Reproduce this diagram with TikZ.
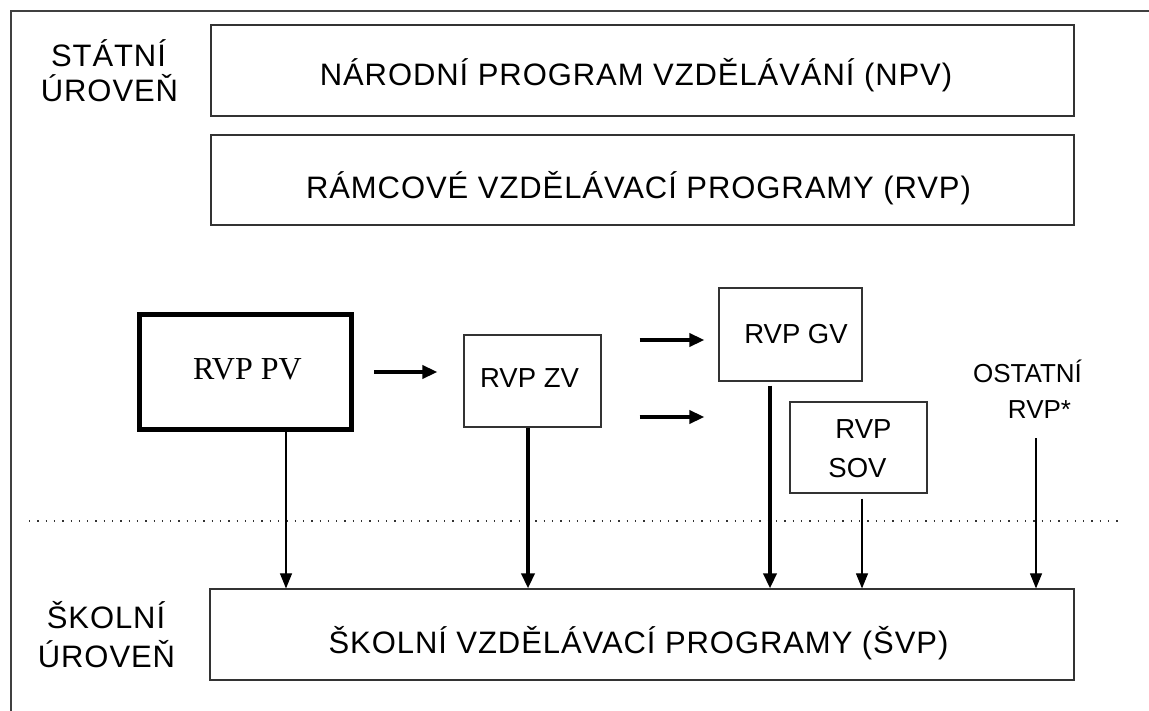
\documentclass[tikz,border=0pt]{standalone}
\usepackage{fontspec}
\setmainfont{Liberation Sans}
\newfontfamily\widesans{Liberation Sans}[LetterSpace=3]
\newfontfamily\serifrm{Liberation Serif}
\usetikzlibrary{arrows.meta}
\begin{document}
\begin{tikzpicture}[x=1pt,y=-1pt,
  box/.style={draw=black!80, line width=1.2pt, inner sep=0pt, rectangle},
  heavybox/.style={draw=black, line width=5pt, inner sep=0pt, rectangle},
  bigtext/.style={anchor=base, inner sep=0pt, font=\widesans\fontsize{31}{36}\selectfont},
  midtext/.style={anchor=base, inner sep=0pt, font=\fontsize{27.5}{32}\selectfont},
  smalltext/.style={anchor=base, inner sep=0pt, font=\fontsize{26}{30}\selectfont},
  sertext/.style={anchor=base, inner sep=0pt, font=\serifrm\fontsize{32}{36}\selectfont},
  thinarrow/.style={draw=black, line width=1.1pt, -{Triangle[length=15pt,width=12pt]}},
  thickarrow/.style={draw=black, line width=3.5pt, -{Triangle[length=15pt,width=13pt]}},
  dotline/.style={draw=black!80, line width=1.3pt, dash pattern=on 1.3pt off 7pt},
  frameline/.style={draw=black!75, line width=1.2pt}
]
\useasboundingbox (0,0) rectangle (1149,711);
\fill[white] (0,0) rectangle (1149,711);

% frame
\draw[frameline] (11,711) -- (11,11) -- (1149,11);

% state level boxes
\node[box, minimum width=863pt, minimum height=91pt] (npv) at (642.5,70.5) {};
\node[bigtext] (npvt) at (636,86) {NÁRODNÍ PROGRAM VZDĚLÁVÁNÍ (NPV)};
\node[box, minimum width=863pt, minimum height=90pt] (rvp) at (642.5,180) {};
\node[bigtext] (rvpt) at (638.5,199) {RÁMCOVÉ VZDĚLÁVACÍ PROGRAMY (RVP)};

% level labels
\node[bigtext] (st1) at (108.5,67) {STÁTNÍ};
\node[bigtext] (st2) at (109.5,102) {ÚROVEŇ};
\node[bigtext] (sk1) at (106,628) {ŠKOLNÍ};
\node[bigtext] (sk2) at (106.5,667) {ÚROVEŇ};

% RVP boxes
\node[heavybox, minimum width=212pt, minimum height=115pt] (pv) at (245.5,372) {};
\node[sertext] (pvt) at (247.5,380) {RVP PV};
\node[box, minimum width=137pt, minimum height=92pt] (zv) at (532.5,381) {};
\node[midtext] (zvt) at (529.5,388) {RVP ZV};
\node[box, minimum width=143pt, minimum height=93pt] (gv) at (790.5,334.5) {};
\node[midtext] (gvt) at (796,344) {RVP GV};
\node[box, minimum width=137pt, minimum height=91pt] (sov) at (858.5,447.5) {};
\node[midtext] (sovt1) at (863.5,438) {RVP};
\node[midtext] (sovt2) at (857.5,477) {SOV};
\node[smalltext] (ost1) at (1027.5,382) {OSTATNÍ};
\node[smalltext] (ost2) at (1039.5,418) {RVP*};

% school level box
\node[box, minimum width=864pt, minimum height=91pt] (svp) at (642,634.5) {};
\node[bigtext] (svpt) at (638.5,653) {ŠKOLNÍ VZDĚLÁVACÍ PROGRAMY (ŠVP)};

% dotted divider
\draw[dotline] (29,521) -- (1123,521);

% helper coordinates
\coordinate (cpv) at (286,0);
\coordinate (czv) at (528,0);
\coordinate (cgv) at (770,0);
\coordinate (csov) at (862,0);
\coordinate (ostend) at (1036,438);
\coordinate (ya2) at (0,340);
\coordinate (ya3) at (0,417);

% horizontal arrows
\draw[thickarrow, shorten <=20pt, shorten >=26pt] (pv.east) -- (pv.east -| zv.west);
\draw[thickarrow, shorten <=38pt, shorten >=14pt] (zv.east |- ya2) -- (gv.west |- ya2);
\draw[thickarrow, shorten <=38pt, shorten >=85pt] (zv.east |- ya3) -- (sov.west |- ya3);

% vertical arrows
\draw[thinarrow] (pv.south -| cpv) -- (svp.north -| cpv);
\draw[thickarrow] (zv.south -| czv) -- (svp.north -| czv);
\draw[thickarrow, shorten <=4pt] (gv.south -| cgv) -- (svp.north -| cgv);
\draw[thinarrow, shorten <=5pt] (sov.south -| csov) -- (svp.north -| csov);
\draw[thinarrow] (ostend) -- (svp.north -| ostend);
\end{tikzpicture}
\end{document}
